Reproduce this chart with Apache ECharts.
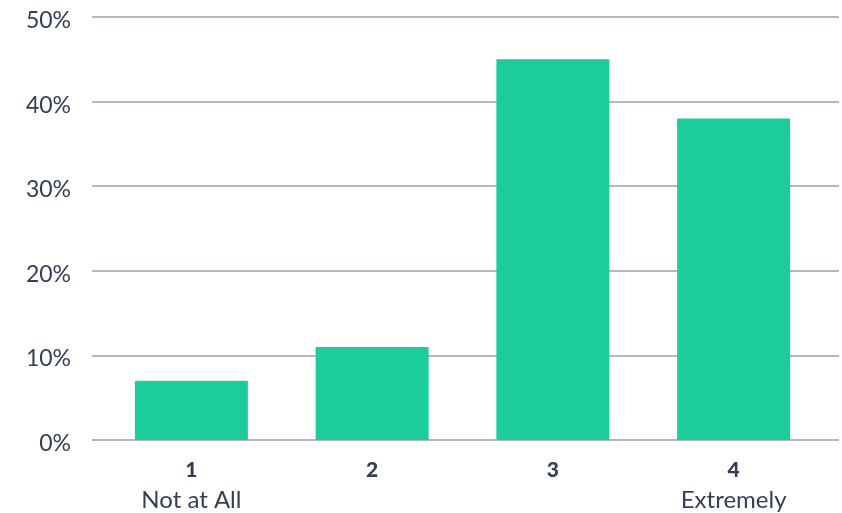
<!DOCTYPE html>
<html>
<head>
<meta charset="utf-8">
<script src="https://cdn.jsdelivr.net/npm/echarts@6/dist/echarts.min.js"></script>
<style>
  html, body { margin: 0; padding: 0; background: #fff; }
  #chart { width: 842px; height: 513px; }
</style>
</head>
<body>
<div id="chart"></div>
<script>
// Rating scale and share of responses
const categories = ['1', '2', '3', '4'];
const subLabels = ['Not at All', '', '', 'Extremely'];
const shares = [7, 11, 45, 38];
const yTicks = [0, 10, 20, 30, 40, 50];

const textColor = '#363e51';
const fontFamily = 'Lato, "Open Sans", sans-serif';

const chart = echarts.init(document.getElementById('chart'), null, { renderer: 'canvas' });

chart.setOption({
  animation: false,
  grid: [
    // full-width grid carrying the percentage axis and its gridlines
    { left: 92, right: 3, top: 17, bottom: 73, outerBoundsMode: 'none', containLabel: false },
    // inner grid carrying the rating categories and the bars
    { left: 101, right: 18, top: 17, bottom: 73, outerBoundsMode: 'none', containLabel: false }
  ],
  xAxis: [
    { gridIndex: 0, type: 'category', data: categories, show: false },
    {
      gridIndex: 1,
      type: 'category',
      data: categories,
      axisLine: { show: false },
      axisTick: { show: false },
      axisLabel: {
        margin: 15,
        formatter: (v, i) => '{num|' + v + '}\n{sub|' + (subLabels[i] || ' ') + '}',
        rich: {
          num: { fontFamily, fontSize: 21, fontWeight: 900, color: textColor, lineHeight: 30 },
          sub: { fontFamily, fontSize: 24, color: textColor, lineHeight: 30 }
        }
      }
    }
  ],
  yAxis: [
    {
      gridIndex: 0,
      type: 'value',
      min: yTicks[0],
      max: yTicks[yTicks.length - 1],
      interval: 10,
      axisLine: { show: false },
      axisTick: { show: false },
      axisLabel: {
        margin: 21,
        formatter: '{v|{value}%}',
        rich: {
          v: { fontFamily, fontSize: 23, color: textColor, padding: [7, 0, 0, 0] }
        }
      },
      splitLine: { lineStyle: { color: '#b3b7be', width: 2 } }
    },
    {
      gridIndex: 1,
      type: 'value',
      min: yTicks[0],
      max: yTicks[yTicks.length - 1],
      interval: 10,
      show: false,
      splitLine: { show: false }
    }
  ],
  series: [{
    type: 'bar',
    xAxisIndex: 1,
    yAxisIndex: 1,
    data: shares,
    barWidth: 113,
    itemStyle: { color: '#1ccd9b' }
  }]
});
</script>
</body>
</html>
